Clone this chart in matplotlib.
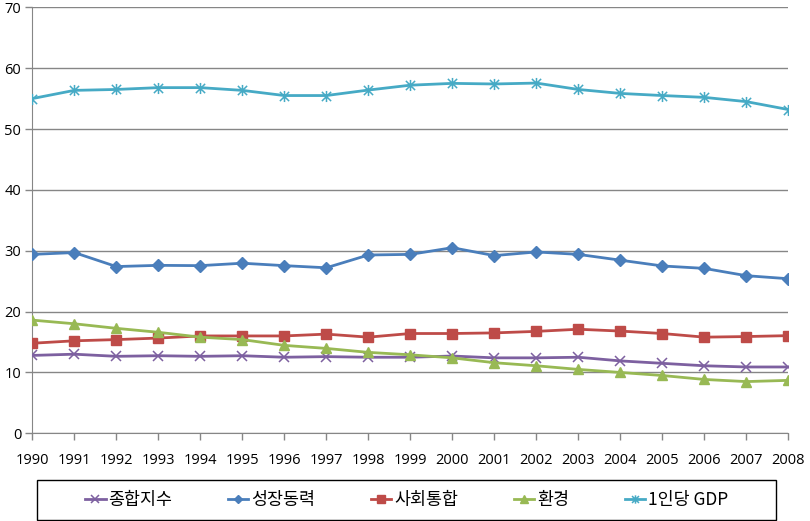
import matplotlib

matplotlib.use("Agg")
import matplotlib.pyplot as plt
from matplotlib.patches import Rectangle
from matplotlib.path import Path

plt.rcParams["font.family"] = ["Noto Sans CJK KR", "DejaVu Sans"]

# 데이터
years = list(range(1990, 2009))
composite = [12.8, 13.0, 12.65, 12.75, 12.65, 12.75, 12.5, 12.6, 12.5, 12.5,
             12.7, 12.4, 12.4, 12.5, 11.9, 11.5, 11.1, 10.9, 10.9]
growth = [29.4, 29.7, 27.4, 27.6, 27.55, 27.95, 27.55, 27.2, 29.3, 29.4,
          30.5, 29.2, 29.8, 29.4, 28.45, 27.5, 27.1, 25.9, 25.4]
social = [14.8, 15.2, 15.4, 15.65, 16.0, 16.0, 16.0, 16.3, 15.8, 16.4,
          16.4, 16.5, 16.75, 17.1, 16.8, 16.4, 15.8, 15.9, 16.05]
environment = [18.6, 18.0, 17.25, 16.6, 15.8, 15.4, 14.45, 13.95, 13.3, 12.9,
               12.4, 11.6, 11.1, 10.5, 10.0, 9.5, 8.85, 8.5, 8.7]
gdp = [55.0, 56.35, 56.5, 56.8, 56.8, 56.35, 55.5, 55.5, 56.4, 57.2,
       57.5, 57.4, 57.55, 56.5, 55.85, 55.5, 55.2, 54.5, 53.2]

labels = ["종합지수", "성장동력", "사회통합", "환경", "1인당 GDP"]
colors = ["#7D60A0", "#4A7EBB", "#BE4B48", "#98B954", "#46AAC5"]

# 엑셀 스타일 별표 마커 (X + 세로선)
star = Path(
    [(-1, -1), (1, 1), (-1, 1), (1, -1), (0, -1.2), (0, 1.2)],
    [Path.MOVETO, Path.LINETO, Path.MOVETO, Path.LINETO, Path.MOVETO, Path.LINETO],
)

fig = plt.figure(figsize=(8.10, 5.21), dpi=100)
ax = fig.add_axes([0.0399, 0.1683, 0.9333, 0.8177])

series = [composite, growth, social, environment, gdp]
markers = ["x", "D", "s", "^", star]
msizes = [7, 6, 7, 7, 8]
for vals, lab, col, mk, ms in zip(series, labels, colors, markers, msizes):
    filled = mk in ("D", "s", "^")
    ax.plot(
        years, vals, color=col, lw=2, marker=mk, markersize=ms,
        markerfacecolor=col if filled else "none",
        markeredgecolor=col, markeredgewidth=1 if filled else 1.1,
        label=lab, zorder=3,
    )

ax.set_xlim(1990, 2008)
ax.set_ylim(0, 70)
ax.set_xticks(years)
ax.set_xticklabels([str(y) for y in years])
ax.set_yticks(range(0, 71, 10))
ax.grid(axis="y", color="#868686", lw=1)
ax.set_axisbelow(True)
for side in ("top", "right"):
    ax.spines[side].set_visible(False)
for side in ("left", "bottom"):
    ax.spines[side].set_color("#868686")
ax.tick_params(axis="both", color="#868686", length=5, width=1,
               labelsize=10.5, labelfontfamily="Open Sans")
ax.tick_params(axis="x", pad=9)
ax.tick_params(axis="y", pad=3)
ax.margins(x=0)

# 범례 테두리 (엑셀처럼 넓은 상자)
fig.patches.append(Rectangle(
    (37 / 810, 1 / 521), 739 / 810, 40 / 521,
    transform=fig.transFigure, fill=False, edgecolor="black", lw=1,
))
fig.legend(
    loc="center", bbox_to_anchor=(406.5 / 810, 21 / 521),
    ncol=5, frameon=False, fontsize=12.5, handlelength=1.2,
    handletextpad=0.15, columnspacing=3.2, markerscale=0.75,
)

fig.savefig("out.png", dpi=100)
